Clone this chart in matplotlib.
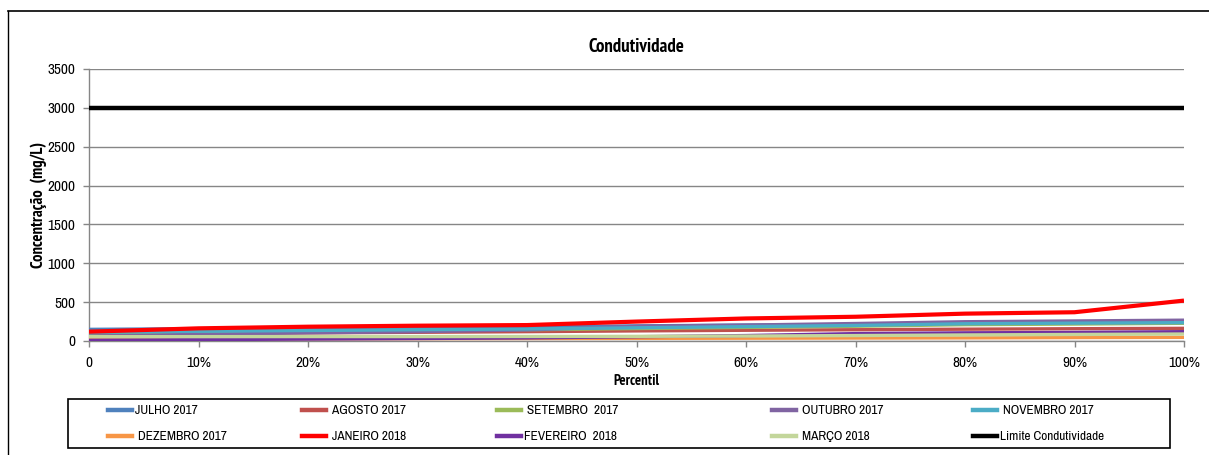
import matplotlib.pyplot as plt
from matplotlib.lines import Line2D
from matplotlib.patches import Rectangle
from matplotlib import font_manager

# fonte estreita parecida com Calibri, se houver alguma instalada
fonts = font_manager.fontManager.ttflist
narrow = [f for f in fonts if "Narrow" in f.name]
narrow_bold = [f for f in narrow if f.weight in ("bold", 700)]
if narrow:
    plt.rcParams["font.family"] = [narrow[0].name, "DejaVu Sans"]
    fs_tick, fs_leg = 11, 9.6
else:
    plt.rcParams["font.family"] = ["Liberation Sans", "DejaVu Sans"]
    fs_tick, fs_leg = 9, 7.8
if narrow_bold:
    bold_font = dict(family=[narrow_bold[0].name, "DejaVu Sans"], fontweight="bold")
    bscale = 1.0
else:
    bold_font = dict(family=["Liberation Sans", "DejaVu Sans"], fontweight="bold")
    bscale = 0.82

percentis = [0, 10, 20, 30, 40, 50, 60, 70, 80, 90, 100]
tick_labels = ["0", "10%", "20%", "30%", "40%", "50%", "60%", "70%", "80%", "90%", "100%"]

julho_2017 = [150, 158, 165, 172, 180, 195, 205, 212, 230, 238, 248]
agosto_2017 = [85, 95, 105, 112, 120, 130, 138, 145, 152, 158, 163]
setembro_2017 = [95, 110, 125, 135, 145, 160, 175, 190, 210, 218, 228]
outubro_2017 = [64, 85, 105, 120, 142, 190, 205, 225, 248, 258, 268]
novembro_2017 = [110, 125, 135, 145, 155, 170, 185, 200, 222, 230, 236]
dezembro_2017 = [20, 24, 28, 30, 32, 34, 36, 38, 40, 44, 47]
janeiro_2018 = [120, 163, 184, 197, 205, 250, 290, 312, 352, 370, 520]
fevereiro_2018 = [10, 18, 25, 32, 40, 55, 70, 95, 105, 110, 120]
marco_2018 = [56, 56, 57, 57, 58, 60, 64, 70, 78, 84, 90]
limite = [3000] * len(percentis)

series = [
    ("JULHO 2017", julho_2017, "#4F81BD", 2.4),
    (" AGOSTO 2017", agosto_2017, "#C0504D", 2.4),
    (" SETEMBRO  2017", setembro_2017, "#9BBB59", 2.4),
    (" OUTUBRO 2017", outubro_2017, "#8064A2", 2.4),
    (" NOVEMBRO 2017", novembro_2017, "#4BACC6", 2.4),
    (" DEZEMBRO 2017", dezembro_2017, "#F79646", 2.4),
    (" JANEIRO 2018", janeiro_2018, "#FF0000", 3.0),
    ("FEVEREIRO  2018", fevereiro_2018, "#7030A0", 2.4),
    (" MARÇO 2018", marco_2018, "#C3D69B", 2.4),
    ("Limite Condutividade", limite, "#000000", 3.2),
]

W, H = 1209, 455
fig = plt.figure(figsize=(W / 100, H / 100), dpi=100)
ax = fig.add_axes([89 / W, 1 - 341 / H, (1184 - 89) / W, (341 - 69) / H])

# ordem de desenho: as mais baixas primeiro, vermelho e limite por cima
draw_order = [5, 8, 7, 1, 2, 4, 0, 3, 6, 9]
for i in draw_order:
    name, vals, color, lw = series[i]
    ax.plot(percentis, vals, color=color, lw=lw, solid_capstyle="butt", zorder=3 + i * 0.1)

ax.set_xlim(0, 100)
ax.set_ylim(0, 3500)
ax.set_yticks(range(0, 3501, 500))
ax.set_xticks(percentis)
ax.set_xticklabels(tick_labels)
ax.tick_params(axis="both", labelsize=fs_tick, color="#868686", length=4, width=1)
ax.tick_params(axis="x", pad=7)
ax.tick_params(axis="y", pad=6)
ax.grid(axis="y", color="#868686", lw=1)
ax.set_axisbelow(True)
for s in ["top", "right"]:
    ax.spines[s].set_visible(False)
for s in ["left", "bottom"]:
    ax.spines[s].set_color("#868686")
    ax.spines[s].set_linewidth(1)

ax.set_title("Condutividade", fontsize=13.5 * bscale, pad=12, **bold_font)
ax.set_xlabel("Percentil", fontsize=10.5 * bscale, labelpad=3, **bold_font)
ax.set_ylabel("Concentração  (mg/L)", fontsize=12 * bscale, labelpad=0, **bold_font)

# caixa da legenda
fig.add_artist(Rectangle((68 / W, 1 - 448 / H), (1170 - 68) / W, (448 - 399) / H,
                         transform=fig.transFigure, fill=False, edgecolor="black", lw=1.2))

# legenda: uma coluna por posição, duas linhas cada
col_x = [108, 302, 497, 772, 973]
for c, x in enumerate(col_x):
    idx = [c, c + 5]
    hs = [Line2D([], [], color=series[i][2], lw=3.2) for i in idx]
    fig.legend(hs, [series[i][0] for i in idx], loc="upper left",
               bbox_to_anchor=(x / W, 1 - 405 / H), frameon=False, fontsize=fs_leg,
               handlelength=1.8, handletextpad=0.2, borderpad=0, borderaxespad=0,
               labelspacing=1.1)

# moldura externa do gráfico
fig.add_artist(Line2D([8 / W, 1.0], [1 - 11 / H, 1 - 11 / H], color="black", lw=1.2))
fig.add_artist(Line2D([8 / W, 8 / W], [0, 1 - 11 / H], color="black", lw=1.0))

fig.savefig("out.png", dpi=100)
